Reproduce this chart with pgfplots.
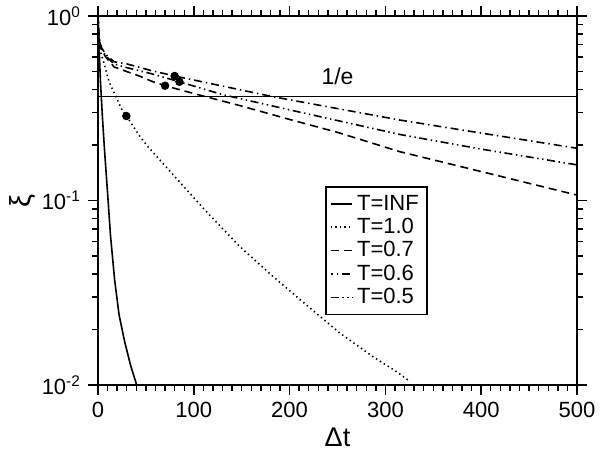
\documentclass[border=0pt]{standalone}
\usepackage{fontspec}
\setmainfont{Liberation Sans}
\usepackage{pgfplots}
\pgfplotsset{compat=1.18}
\begin{document}
\begin{tikzpicture}
\path[use as bounding box] (-49pt,-33pt) rectangle (251pt,192.5pt);
\begin{axis}[
  scale only axis, width=239.5pt, height=184.5pt,
  at={(0,0)}, anchor=south west,
  ymode=log, xmin=0, xmax=500, ymin=0.01, ymax=1,
  xtick={0,100,200,300,400,500}, minor x tick num=9,
  ytick={0.01,0.1,1},
  yticklabels={10\textsuperscript{-2},10\textsuperscript{-1},10\textsuperscript{0}},
  minor ytick={0.02,0.03,0.04,0.05,0.06,0.07,0.08,0.09,0.2,0.3,0.4,0.5,0.6,0.7,0.8,0.9},
  xtick align=outside, ytick align=outside,
  every major tick/.append style={major tick length=5pt, black, line width=0.8pt},
  every minor tick/.append style={minor tick length=2.8pt, black, line width=0.7pt},
  xtick pos=both, ytick pos=both,
  axis line style={line width=1pt},
  /pgf/number format/assume math mode=true,
  tick label style={font=\fontsize{11}{13}\selectfont},
  xlabel={Δt}, ylabel={ξ},
  xlabel style={font=\fontsize{13.5}{15}\selectfont, at={(axis description cs:0.5,-0.142)}, anchor=center},
  ylabel style={font=\fontsize{14.5}{16}\selectfont, at={(axis description cs:-0.158,0.5)}, anchor=center},
  legend style={at={(axis description cs:0.474,0.539)}, anchor=north west, draw=black, line width=0.8pt,
    font=\fontsize{11}{12}\selectfont, inner sep=2pt, row sep=-1.5pt, fill=white},
  legend cell align=left,
  legend image code/.code={\draw[#1] (0cm,0cm) -- (0.38cm,0cm);},
]
% T=INF
\addplot[black, line width=0.8pt] coordinates {
(0,1) (1,0.7) (2.5,0.45) (4.5,0.29) (6.8,0.188) (10,0.11) (13,0.065) (17.4,0.037)
(22,0.024) (27.8,0.0172) (34,0.0128) (40.4,0.01)};
\addlegendentry{T=INF}
% T=1.0
\addplot[black, line width=0.8pt, dash pattern=on 0.7pt off 1.6pt] coordinates {
(0,1) (1,0.71) (3,0.63) (6.3,0.554) (11.5,0.44) (18.5,0.368) (25,0.31) (29.6,0.287)
(36.5,0.2535) (43.8,0.222) (52.5,0.195) (78.6,0.1375) (113.5,0.0866) (148.2,0.0562)
(183,0.0386) (217.8,0.0271) (252.6,0.0191) (287.4,0.0142) (311.8,0.0118) (325,0.0105)};
\addlegendentry{T=1.0}
% T=0.7
\addplot[black, line width=0.8pt, dash pattern=on 4pt off 2.5pt] coordinates {
(0,1) (1,0.76) (2,0.70) (4,0.65) (8,0.60) (16.7,0.53) (30,0.50) (44.5,0.47) (55,0.445)
(70,0.419) (100,0.38) (150,0.325) (200,0.275) (250,0.234) (315,0.184) (400,0.1435) (500,0.107)};
\addlegendentry{T=0.7}
% T=0.6
\addplot[black, line width=0.8pt, dash pattern=on 4pt off 2pt on 0.7pt off 2pt, dash phase=3pt] coordinates {
(0,1) (1,0.78) (2,0.72) (4,0.67) (8,0.62) (16.7,0.565) (30,0.55) (44.5,0.525) (54.3,0.508)
(80,0.473) (183,0.365) (315,0.273) (400,0.232) (500,0.192)};
\addlegendentry{T=0.6}
% T=0.5
\addplot[black, line width=0.8pt, dash pattern=on 4pt off 1.8pt on 0.7pt off 1.8pt on 0.7pt off 1.8pt] coordinates {
(0,1) (1,0.77) (2,0.71) (4,0.66) (8,0.61) (16.7,0.55) (30,0.525) (54.3,0.489) (85,0.44)
(130,0.375) (200,0.31) (315,0.228) (400,0.19) (500,0.156)};
\addlegendentry{T=0.5}
% 1/e line
\addplot[black, line width=0.5pt, forget plot] coordinates {(0,0.3679) (500,0.3679)};
% markers
\addplot[only marks, mark=*, mark size=1.9pt, black, forget plot] coordinates {
(29.6,0.287) (70,0.419) (80,0.473) (85,0.44)};
\node[font=\fontsize{11.5}{13}\selectfont] at (axis cs:250,0.47) {1/e};
\end{axis}
\end{tikzpicture}
\end{document}
